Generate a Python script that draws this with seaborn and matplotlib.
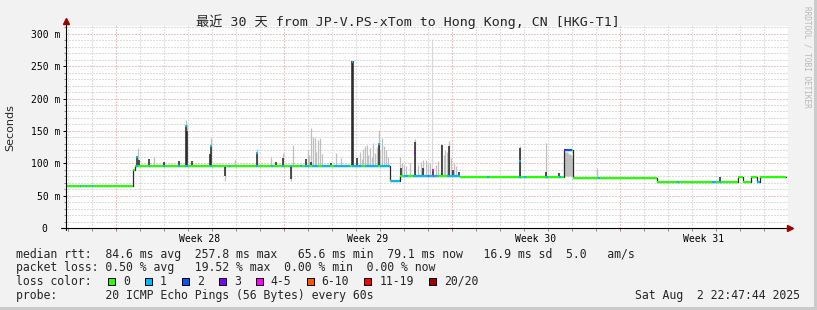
import numpy as np
import pandas as pd
import matplotlib
matplotlib.use("Agg")
import matplotlib.pyplot as plt
import seaborn as sns
from matplotlib.patches import Rectangle

# ---------------- data (x = hours since start of the 30-day window) ----------------
median_start_h = [0, 67, 69, 324, 334, 394, 498, 507, 591, 672, 677, 685, 691, 694]
median_ms = [65.6, 89, 96, 72, 80, 78.4, 120, 77.8, 71.6, 78.4, 71.6, 78.4, 71.5, 79.3]
median_end_h = 720

# dark smoke spikes (dense ping spread)
spike_h = [71, 73, 83, 98, 113, 120, 121, 126, 144, 145, 159, 191, 210, 217, 225, 240, 245,
           265, 286, 287, 291, 313, 335, 349, 357, 367, 376, 383, 387, 393, 454, 480, 493, 654]
spike_lo = [96, 96, 96, 96, 96, 96, 96, 96, 96, 96, 81, 96, 96, 96, 75, 96, 96,
            96, 96, 96, 96, 96, 80, 80, 80, 80, 80, 80, 80, 80, 78.4, 78.4, 78.4, 71.6]
spike_hi = [110, 105, 107, 102, 104, 159, 150, 104, 115, 128, 96, 118, 102, 108, 96, 107, 102,
            100, 258, 258, 108, 131, 93, 133, 93, 91, 128, 127, 90, 87, 123, 86, 85, 79]

# light smoke (outer ping spread)
smoke_h = [72, 88, 120, 121, 145, 159, 169, 191, 205, 217, 225, 227,
           242, 243, 245, 247, 249, 250, 252, 254, 256, 270, 275,
           294, 296, 297, 299, 301, 302, 304, 306, 307, 309,
           311, 313, 314, 316, 318, 320, 322,
           334, 336, 338, 340, 344, 349, 352, 355, 357, 360, 362, 364, 370, 372, 375, 378,
           379, 381, 383, 385, 388, 390, 454, 480, 531,
           498, 499, 500, 501, 502, 503, 504, 505, 506]
smoke_lo = [96, 96, 96, 96, 96, 72, 96, 96, 96, 96, 72, 96,
            96, 96, 96, 96, 96, 96, 96, 96, 96, 96, 96,
            96, 96, 96, 96, 96, 96, 96, 96, 96, 96,
            96, 96, 96, 96, 96, 96, 96,
            72, 80, 80, 80, 80, 80, 80, 80, 80, 80, 80, 80, 80, 80, 80, 80,
            80, 80, 80, 80, 80, 80, 78, 78, 78,
            80, 80, 80, 80, 80, 80, 80, 80, 80]
smoke_hi = [124, 110, 167, 160, 139, 96, 105, 122, 110, 116, 96, 128,
            121, 112, 155, 140, 139, 118, 136, 139, 115, 116, 108,
            118, 106, 122, 126, 128, 112, 124, 110, 131, 116,
            125, 151, 120, 139, 126, 121, 110,
            110, 100, 98, 95, 100, 137, 98, 102, 105, 105, 100, 100, 98, 104, 130, 112,
            120, 118, 135, 108, 100, 95, 127, 132, 92,
            100, 118, 118, 117, 116, 115, 114, 112, 110]

# very faint outlier line
faint_h = [366]
faint_lo = [80]
faint_hi = [292]

# packet-loss colouring of the median line (start h, end h, loss category)
loss_h0 = [14, 20, 26, 70, 83, 97, 112, 119, 144, 163, 190, 205, 216, 224, 234, 239, 246, 256,
           268, 286, 299, 314, 325, 338, 347, 381, 421, 453, 458, 480, 493, 532, 611, 646, 653,
           691, 499, 498, 362, 367]
loss_h1 = [15, 21, 27, 72, 84, 99, 114, 122, 146, 164, 192, 207, 218, 226, 236, 243, 252, 264,
           284, 296, 312, 324, 334, 342, 372, 394, 423, 455, 460, 482, 495, 534, 613, 650, 655,
           694, 506, 499.5, 363, 368]
loss_cat = [1] * 36 + [2, 3, 4, 4]

# coloured tops of spikes
cap_h = [71, 120, 145, 191, 286.5, 313, 349, 454, 367]
cap_ms = [109, 157, 126, 116, 256, 129, 116, 103, 90]
cap_cat = [1, 1, 1, 1, 1, 1, 3, 1, 4]

loss_colors = ["#26ff00", "#00b8ff", "#0059ff", "#7e00ff", "#ff00ff", "#ff5500", "#ff0000", "#a10000"]
loss_labels = ["0", "1", "2", "3", "4-5", "6-10", "11-19", "20/20"]

y_ticks = [0, 50, 100, 150, 200, 250, 300]
y_tick_labels = ["0  ", "50 m", "100 m", "150 m", "200 m", "250 m", "300 m"]
week_labels = ["Week 28", "Week 29", "Week 30", "Week 31"]
week_start_h = [50, 218, 386, 554]

title = "最近 30 天 from JP-V.PS-xTom to Hong Kong, CN [HKG-T1]"
stat_rows = [
    "median rtt:  84.6 ms avg  257.8 ms max   65.6 ms min  79.1 ms now   16.9 ms sd  5.0   am/s",
    "packet loss: 0.50 % avg   19.52 % max  0.00 % min  0.00 % now",
]
probe_text = "probe:       20 ICMP Echo Pings (56 Bytes) every 60s"
date_text = "Sat Aug  2 22:47:44 2025"

# ---------------- drawing ----------------
sns.set_style("white")
MONO = ["DejaVu Sans Mono", "Noto Sans CJK SC"]
plt.rcParams["font.family"] = MONO

W, H = 817, 310
fig = plt.figure(figsize=(W / 100, H / 100), dpi=100, facecolor="#f2f2f2")


def fx(px):
    return px / W


def fy(py):
    return 1 - py / H


ax = fig.add_axes([fx(66), fy(228), (788 - 66) / W, (228 - 26) / H])
ax.set_facecolor("white")
ax.set_xlim(0, 722)
ax.set_ylim(0, 312)
for s in ax.spines.values():
    s.set_visible(False)

DOT = (0, (1, 2))
minor_y = [v for v in range(10, 312, 10) if v % 50 != 0]
major_y = [v for v in range(50, 312, 50)]
day_h = [d for d in range(2, 722, 24) if d not in week_start_h]
ax.hlines(minor_y, 0, 722, colors="#bcbcbc", linestyles=DOT, lw=0.72, zorder=0)
ax.vlines(day_h, 0, 312, colors="#bcbcbc", linestyles=DOT, lw=0.72, zorder=0)
ax.hlines(major_y, 0, 722, colors="#e08888", linestyles=DOT, lw=0.72, zorder=0)
ax.vlines(week_start_h, 0, 312, colors="#e08888", linestyles=DOT, lw=0.72, zorder=0)

# smoke
ax.vlines(faint_h, faint_lo, faint_hi, colors="#d8d8d8", lw=0.8, zorder=1)
ax.vlines(smoke_h, smoke_lo, smoke_hi, colors="#bfbfbf", lw=0.9, zorder=2)
ax.vlines(spike_h, spike_lo, spike_hi, colors="#222222", lw=1.1, zorder=3)

# median: thin dark step line (gives dark transitions), then coloured level segments
med_df = pd.DataFrame({"h": median_start_h + [median_end_h], "ms": median_ms + [median_ms[-1]]})
sns.lineplot(data=med_df, x="h", y="ms", drawstyle="steps-post", color="#2a2a2a", lw=0.9,
             estimator=None, sort=False, ax=ax, zorder=4, legend=False)
seg_end = median_start_h[1:] + [median_end_h]
ax.hlines(median_ms, median_start_h, seg_end, colors=loss_colors[0], lw=1.5, zorder=5)


def level_at(h):
    i = np.searchsorted(median_start_h, h, side="right") - 1
    return median_ms[i]


for h0, h1, c in zip(loss_h0, loss_h1, loss_cat):
    ax.hlines(level_at(h0), h0, h1, colors=loss_colors[c], lw=1.5, zorder=6)
for h, v, c in zip(cap_h, cap_ms, cap_cat):
    ax.hlines(v, h - 0.9, h + 0.9, colors=loss_colors[c], lw=1.5, zorder=6)

# axes lines with arrows
px_ms = 312 / 202.0
ax.plot([0, 0], [-2 * px_ms, 318], color="black", lw=0.8, clip_on=False, zorder=7)
ax.plot([0], [319], marker="^", ms=4.2, color="#990000", mec="#990000", clip_on=False, zorder=8)
ax.plot([-5, 724], [0, 0], color="black", lw=0.8, clip_on=False, zorder=7)
ax.plot([724], [0], marker=">", ms=4.2, color="#990000", mec="#990000", clip_on=False, zorder=8)

# tick marks
ax.hlines(minor_y, -2.5, 0, colors="#8c8c8c", lw=0.72, clip_on=False)
ax.hlines([0] + major_y[:-1], -3.5, 0, colors="black", lw=0.72, clip_on=False)
ax.vlines(day_h + [2], -2.5 * px_ms, 0, colors="#8c8c8c", lw=0.72, clip_on=False)
ax.vlines(week_start_h, -2.5 * px_ms, 0, colors="#e06060", lw=0.72, clip_on=False)

ax.set_yticks(y_ticks)
ax.set_yticklabels(y_tick_labels, fontsize=7, family=MONO)
ax.set_xticks([w + 84 for w in week_start_h])
ax.set_xticklabels(week_labels, fontsize=7, family=MONO)
ax.tick_params(axis="y", length=0, pad=4.3, colors="black")
ax.tick_params(axis="x", length=0, pad=4.6, colors="black")
ax.set_xlabel("")
ax.set_ylabel("")
ax.grid(False)

# texts
fig.text(fx(408), fy(26), title, ha="center", va="baseline", fontsize=9.5, family=MONO)
fig.text(fx(10.5), fy(128), "Seconds", rotation=90, ha="center", va="center",
         fontsize=8, family="DejaVu Sans")
fig.text(fx(807.5), fy(56.5), "RRDTOOL / TOBI OETIKER", rotation=270, ha="center", va="center",
         fontsize=5.6, color="#b8b8b8", family=MONO)

LFS = 8.3
CW = 0.602 * LFS * 100 / 72
fig.text(fx(16), fy(258), stat_rows[0], fontsize=LFS, va="baseline", family=MONO)
fig.text(fx(16), fy(271.5), stat_rows[1], fontsize=LFS, va="baseline", family=MONO)
fig.text(fx(16), fy(285), "loss color:", fontsize=LFS, va="baseline", family=MONO)
x = 108
for lab, col in zip(loss_labels, loss_colors):
    fig.patches.append(Rectangle((fx(x), fy(284.5)), 7 / W, 7 / H, transform=fig.transFigure,
                                 facecolor=col, edgecolor="black", lw=0.72, figure=fig))
    fig.text(fx(x + 15), fy(285), lab, fontsize=LFS, va="baseline", family=MONO)
    x = x + 15 + len(lab) * CW + 15
fig.text(fx(16), fy(299), probe_text, fontsize=LFS, va="baseline", family=MONO)
fig.text(fx(800), fy(299), date_text, fontsize=LFS, va="baseline", ha="right", family=MONO)

# frame shading
fig.patches.append(Rectangle((fx(814), 0), 3 / W, 1, transform=fig.transFigure,
                             facecolor="#cbcbcb", edgecolor="none", figure=fig))
fig.patches.append(Rectangle((0, 0), 1, 3 / H, transform=fig.transFigure,
                             facecolor="#cbcbcb", edgecolor="none", figure=fig))

fig.savefig("out.png", dpi=100, facecolor=fig.get_facecolor())
